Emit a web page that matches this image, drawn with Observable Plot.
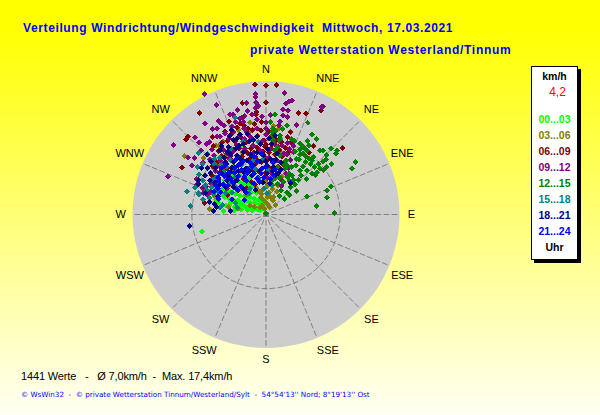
<!DOCTYPE html>
<html><head><meta charset="utf-8">
<script src="https://cdn.jsdelivr.net/npm/d3@7"></script>
<script src="https://cdn.jsdelivr.net/npm/@observablehq/plot@0.6"></script>
<style>
html,body{margin:0;padding:0;width:600px;height:415px;overflow:hidden;background:linear-gradient(#ffff00 0%,#ffff00 6%,#fffff4 100%);font-family:"Liberation Sans",Arial,sans-serif}
#chart{position:absolute;left:0;top:0}
.t{position:absolute;white-space:pre}
.title{color:#0000ff;font-weight:bold;font-size:12px;letter-spacing:.62px}
#legend{position:absolute;left:531px;top:66px;width:45px;height:192px;background:#fff;border:1px solid #000;box-shadow:3px 3px 0 #000}
#legend div{position:absolute;left:0;width:100%;text-align:center;font-weight:bold;font-size:10.5px;line-height:14px}
</style></head><body>
<div id="chart"></div>
<div class="t title" style="left:23px;top:21px">Verteilung Windrichtung/Windgeschwindigkeit  Mittwoch, 17.03.2021</div>
<div class="t title" style="left:250px;top:43px;letter-spacing:.72px">private Wetterstation Westerland/Tinnum</div>
<div id="legend"></div>
<div class="t" id="foot1" style="left:21px;top:370px;font-size:11px;letter-spacing:-.14px;color:#000"></div>
<div class="t" id="foot2" style="left:21px;top:390px;font-size:7.2px;color:#0000ff;font-family:'DejaVu Sans'"></div>
<script>
const directions = ["N","NNE","NE","ENE","E","ESE","SE","SSE","S","SSW","SW","WSW","W","WNW","NW","NNW"];
const hourLabels = ["00...03","03...06","06...09","09...12","12...15","15...18","18...21","21...24"];
const hourColors = ["#00ff00","#808000","#800000","#800080","#008000","#008080","#000080","#0000ff"];
const speedMax = 18, ringSpeed = 10;

// Wind vectors [east, north] in km/h, one list per three-hour block.
const h00 = [[-8.6,-2.3],[-5.7,0.5],[-4.9,1.3],[-2.8,1.1],[-1.7,1],[-1.2,0.8],[-0.8,0.6],[-0.5,1],[-0.3,1.4],[-0.9,1.4],[-1.5,1.5],[-2.1,1.6],[-2.6,1.8],[-3.2,1.7],[-3.8,1.9],[-4.4,2],[-5,2.2],[-5.6,2.4],[-6.1,2.7],[-1,2],[-1.6,2.2],[-2.2,2.4],[-2.9,2.5],[-3.5,2.6],[-4.1,2.8],[-4.8,3],[-5.3,3.2],[-5.9,3.4],[-1.3,2.9],[-2,3],[-2.6,3.2],[-3.3,3.4],[-3.9,3.5],[-4.5,3.8],[-5.1,4],[-1.8,3.8],[-2.4,4],[-3,4.2],[-3.6,4.4],[-4.2,4.6],[-2.2,4.9],[-2.9,5.1],[-3.5,5.3],[-3.5,9.2],[-6.5,1.6],[-5.4,1.2],[-4.3,1],[-3.4,0.7],[-3,1.2],[-2.3,0.8],[-1.9,0.5],[-6.7,2],[-4.7,1.6],[-3.6,1.3],[-7,3.6],[-6.4,4.1],[-5.6,4.6],[-4.7,5.2],[-3.2,5.9],[-1.2,3.4],[-0.7,1.8],[-4.3,0.5],[-2.5,0.6]];
const h03 = [[-11,7.9],[-8.4,7.6],[-6.9,2.4],[-7.6,0.7],[1,2.4],[0.4,3],[-0.7,2.3],[-0.3,1.9],[0.1,1.5],[-0.5,1.2],[-0.2,0.7],[-0.9,3],[-0.4,3.4],[0.2,3.8],[0.8,4],[-0.1,4.4],[-1.3,3.6],[-1,4.5],[0.6,5],[1.6,3.9],[1.5,5.2],[2.2,5.1],[-3.7,11.4],[-2.3,11],[1,11.9],[0.9,10.8],[2,8.4],[-6.8,9.3],[-6.3,9.3],[-5.5,7.8],[-4.3,6.4],[-3.2,8.4],[-7.5,3.2],[-4.5,6],[-2,6.5],[-1,7.2],[0,6.3],[1,6.9],[-3.4,7],[-4.8,4.1],[-2.6,2.6],[0.5,1],[0.9,1.9],[1.3,1.3],[0.2,2.4],[-0.6,2.8],[1.5,3.1],[0.9,3.4],[-1.6,1],[-0.8,0.9],[0.6,2.4],[-5,1],[-3.8,0.8],[-2.2,1.2],[-6.2,6.8],[-7,6.2],[-5.8,9.9],[-2.2,12.4],[1.7,11.6]];
const h06 = [[-1.5,17.5],[0,17.4],[1.4,17.5],[0,15.1],[-3.2,15],[-9,13.7],[4.4,13.7],[5.4,13.6],[7.4,14],[10.3,9],[-11.3,6.3],[-10.5,10.5],[-10.8,10.1],[-7.2,10.4],[-8.3,1.6],[-5,12.5],[-3.2,13.1],[-5.5,11.2],[0,9.5],[3.3,11.1],[3.4,9.7],[5.8,8.4],[6.4,9.2],[-1.3,13.8],[-1.3,13.5],[-4.2,9.8],[-3.4,10.4],[-2.7,9.7],[-1.9,10.1],[-1.1,10.6],[-0.3,10],[0.8,9.4],[1.6,9.2],[-5.1,8.5],[-4.4,8.7],[-3.6,8.9],[-2.8,8.6],[-2,8.9],[-1.2,9],[-0.4,8.5],[0.4,8.4],[1.2,8.1],[2.2,7.8],[-5.5,7.1],[-4.6,7.3],[-3.9,7.6],[-3,7.2],[-2.2,7.5],[-1.4,7.7],[-0.6,7.1],[0.2,7.4],[1,7.2],[-4.2,6.1],[-3.4,5.9],[-2.5,6.2],[-1.7,6],[-0.9,5.8],[-0.1,5.6],[-3,4.8],[-2,4.4],[-1.1,5],[-4.8,5],[-2.9,12],[-1.8,11.4],[-0.7,11.3],[2.9,10.4],[-7.1,9.2],[-6.4,8.6],[-5.9,9.7],[-5.2,9.9],[-4.8,10.7],[-3.9,11.7],[-3.5,12.3],[-2.4,11.6],[-1.5,12.2],[-0.6,12.5],[0.4,11.2],[0.5,10.3],[1.4,10],[2.1,9.8],[2.6,9],[3,8.4],[1.8,8.7],[-0.1,9.2],[-1.6,8.4],[-2.4,8.2],[-3.2,7.8],[-4.8,7.9],[-6,7.9],[-6.6,7],[-7.2,6.5],[-6,6],[-5.2,6.2],[-5.5,5.4],[-6.4,4.8],[-7.3,5.3],[-3.7,5.2],[-1.4,6.8],[0.5,6.3],[1.7,6.4],[2.3,6.8],[-0.5,4.4],[-1.5,4],[-2.6,3.6],[-3.8,3.2],[-5.2,2.6],[-6.6,3.4],[-8.1,3.8]];
const h09 = [[-8.3,16.2],[2.5,16.4],[-6.7,14.8],[-1.4,16.2],[-1.4,15.8],[-1.4,15.1],[-1.4,14.4],[-2.6,15],[3.5,15.4],[3.1,15.2],[2.7,15],[7.7,14.6],[7.5,14.5],[2.3,14.1],[3,14],[2.3,13.4],[2.9,13.1],[4.1,12.1],[1.9,12.5],[1.8,12],[-4.9,13.5],[-4.4,13.5],[-3.8,14.1],[-2.5,14],[-8.2,12.3],[-6.4,12.6],[-6.1,12.3],[-4.1,12.5],[-12.5,9.4],[-13.2,5.1],[-10,6.6],[-10.5,7.7],[-9.6,10.4],[-9,9.7],[-7.6,9.8],[-6.6,11.6],[-6.6,10.5],[-6.2,10.5],[-8.1,2.8],[-7.9,2.6],[0,12.4],[0,11.6],[0,10.8],[-1.2,12.8],[-1.2,11.6],[3.7,9.2],[3.7,8.4],[2.8,8.1],[2.2,4.6],[2.1,3.8],[1.5,5.5],[-3,11.6],[-2.6,11.1],[-2.1,10.5],[-3.7,10.5],[-4.4,11.1],[-5,10.2],[-6.2,7.3],[-5.3,8.2],[-4.4,8.6],[-3.5,7.7],[-2.8,8.9],[-1.7,9.3],[-0.8,8.6],[0.4,7.7],[1.5,7.3],[2.4,8.2],[3.3,7.3],[0.8,5.5],[-2.6,5.9],[-4.8,5],[-6.8,5.9],[-7.5,3],[-5.2,3.5],[-7.2,11.5],[-5.6,12],[-4.6,11.9],[-3.5,13],[-2.9,13.3],[-1.9,13.5],[-0.5,13.2],[0.6,13.4],[-1,14.6],[-3,12.5],[-5.5,10.9],[-7.3,8.8],[-8,9.5],[-8.8,8.6],[-8.5,7],[-7.6,7.4],[-7,8],[-9.6,7.6],[-9.4,4.8],[-9.4,4],[-8.6,3.6],[-8.4,2.9],[-7.4,4.2],[-6.6,6.5],[-5.7,8.7],[-5,7.6],[-4,9.4],[-2.9,10.2],[-0.5,9.9],[1.3,9.4],[2.2,9.3],[2.9,9.6],[3.2,8.8],[3,6.3],[2.7,5.5],[1.8,4.9],[0.2,4.9],[-1.8,8.2],[-0.2,7.8],[0.7,8.9],[1.8,6.2]];
const h12 = [[1.2,13.5],[5.6,12.4],[6.2,10.8],[6.8,10.2],[5.6,9.9],[4.9,9.3],[5.2,9],[5.5,8.6],[4.6,8.1],[5,8.2],[4.1,7.5],[5.8,7.5],[6.2,7.3],[5.3,7.1],[6,6.8],[6.4,7.7],[7.3,8.6],[7.7,8.6],[8.8,8.9],[9.6,8.6],[9.4,8.2],[8.2,8],[7.7,7.1],[8.1,7.4],[8.8,6.8],[7.1,6.8],[7.3,6.2],[7.8,6],[6.9,5.7],[8.1,6.4],[12.1,7.1],[11.6,6.2],[4.6,5.9],[5.5,5.9],[6.7,5.3],[6.2,5.5],[8.8,3.8],[8.2,3.2],[8.2,2.3],[5.5,2.4],[6.8,1.1],[9.3,0.2],[2.5,2.1],[4.1,3.2],[2.9,5],[3.5,5.3],[3.7,4.6],[4.4,4.7],[5.5,4.8],[2.8,3],[3.3,3.7],[0.9,11.6],[0.9,11.1],[0.9,10.7],[0.9,10],[1.9,10.7],[2.8,12],[1.8,10],[2.4,6.8],[2.8,6.6],[2.6,6.2],[1.5,4.1],[2.4,4.4],[3.1,5.5],[3.5,6.4],[2.7,7.3],[0,0.1],[1.5,6.4],[1.9,5],[3.4,10.2],[3.9,9.9],[4.6,9.6],[5.8,9.3],[4.6,8.8],[3.9,8.5],[4.5,7.4],[5.4,7.8],[6.6,6.4],[5,6.5],[4,6.6],[3.2,4.5],[3.9,4],[4.7,5.3],[2,3.2],[1.8,2.5],[3.2,2.6],[1.2,8.6],[1.6,9.1],[0.6,12.5],[1.3,11.3],[2.2,11.5],[1.9,7.9],[1.2,4.9],[0.7,4.5]];
const h15 = [[-4.2,13.1],[-9.1,8.3],[-10.6,3.1],[-10.2,1.1],[-9.6,3.6],[-9.1,2.9],[-9,2.7],[-9.2,6.4],[-9,5.4],[-7.9,8.2],[-7.4,3.7],[-7.2,4.6],[-6.2,7.7],[-5.9,6.8],[-3.9,1],[-7.1,2.8],[-6.6,3.9],[-6.2,5.5],[-5.3,6.4],[-4.8,7.3],[-4.1,5.9],[-6.4,3],[-5.7,4.1],[-4.6,3],[-2.3,2.8],[-1,4.8],[0.4,5.9],[0.8,3.9],[-0.3,3.5],[-1.7,7.3],[-2.8,5.3],[-4.1,3.7],[0.1,2.8],[-8.5,4.6],[-8,3.3],[-8.6,6.8],[-7,6.8],[-6.9,7.5],[-6.7,5],[-8.2,4],[-7.6,2.2],[-6.9,3.2],[-5.5,2.9],[-5,4.3],[-4.2,5],[-3.3,6.7],[-2.2,6.3],[-4.7,8.9],[-5.7,5.9],[-3.2,3.6],[-2.1,3.5],[-1.4,6.1],[-0.4,7.4],[-4.1,1.6],[-5.9,1.3],[-6.2,0.9],[-8.5,2],[-3.1,9.9],[-1,9.8]];
const h18 = [[-10.3,-1.6],[-4.8,0.5],[-4.6,11.4],[-7.9,8.1],[-8.7,6.3],[-7.9,6.3],[-9.1,4.6],[-9.1,4.1],[-8.2,5.3],[-6.7,1],[-7.1,0.5],[-6.2,8.6],[-4.4,10],[-3.9,10.2],[-4.1,8.9],[-5,9.1],[-3.7,9.3],[-3,9.5],[-2.3,9.8],[-1.7,10],[-0.8,9.5],[0.8,9.5],[1.5,8.2],[3.3,4.2],[-5.7,7.7],[-4.8,8.2],[-3.9,8],[-3,8.4],[-2.1,8.2],[-1.2,8.4],[-0.3,8],[0.6,7.5],[-5.3,6.8],[-4.4,7.1],[-3.5,6.8],[-2.6,7.3],[-1.7,6.6],[-0.8,7.1],[0.1,6.6],[1,6.4],[-5.9,5.5],[-4.8,5.7],[-3.7,5.9],[-2.7,6.2],[-0.8,5.9],[0.1,5.5],[1.3,5.3],[-6.2,4.1],[-5.3,4.6],[-3.9,4.6],[-1.9,5.3],[-7.4,7.1],[-6.8,6.3],[-7.5,5.6],[-6.9,4.3],[-7.6,4.6],[-8.2,2.9],[-7.6,1.7],[-6.9,1.4],[-5.5,7],[-5.2,8.4],[-6,9.2],[-4.9,10.6],[-3.5,10.8],[-2.5,10.9],[-1.2,10.5],[0.4,10.3],[1.2,10.6],[0.2,8.8],[1.3,7.4],[2,6.1],[2,7],[1.7,5.6],[-2,7.9],[-3.4,7.5],[-4.6,6.3],[-5.2,5.2],[-6.5,2.4],[-5.5,3.7],[-4.4,3.7],[-3,3.4],[-1.4,3.3],[-0.4,4.3],[0.5,4.2],[-3,5.7],[-2.2,5.9],[-0.1,7.2],[0.9,5.9],[-4.2,4.4]];
const h21 = [[-1.6,7.8],[-0.6,8.1],[-3.1,7.1],[-1.2,7.2],[0.9,7],[-6,6.3],[-4.2,6.3],[-2.4,6.1],[-0.6,6.2],[1.2,6.1],[-6.5,5],[-5.6,5.2],[-4.7,4.9],[-3.8,5.1],[-2.9,5],[-1.2,4.8],[-0.3,5],[0.6,4.8],[-6.8,4],[-5.1,3.9],[-3.4,3.8],[-1.6,4.2],[-7,3.1],[-6.1,3],[-2.7,3],[-6.4,2.1],[-4.6,2],[-2.9,2],[-5.5,6.6],[-3.7,6.7],[-1.9,6.5],[-0.1,6.4],[-6.3,5.6],[-4.3,5.6],[-2.5,5.6],[-0.7,5.5],[1,5.3],[-6.4,4.5],[-4.5,4.4],[-2.6,4.5],[-0.9,4.4],[-6.5,3.5],[-3.9,3.4],[-5.8,4],[-5,5.6],[-3.3,6],[-1.6,5.5],[-4.1,7.4],[-2.1,7]];
const hourSeries = [h00,h03,h06,h09,h12,h15,h18,h21];

const points = hourSeries.flatMap((s,i)=>s.map(([east,north])=>({east,north,hour:hourLabels[i]})));
const polar = (deg,speed)=>({x:speed*Math.sin(deg*Math.PI/180),y:speed*Math.cos(deg*Math.PI/180)});
const circle = speed=>d3.range(0,361,3).map(a=>polar(a,speed));
const spokes = directions.flatMap((name,i)=>[{...polar(i*22.5,0.8),name},{...polar(i*22.5,speedMax),name}]);
const labelShift = [0,2,0,-1.5,0,1.5,0,-2];
const labels = directions.map((name,i)=>({...polar(i*22.5+labelShift[i%8],i%4?20.1:19.6),name}));

const plot = Plot.plot({
  width:600,height:415,
  marginLeft:132,marginRight:201,marginTop:80.5,marginBottom:67.5,
  style:{background:"transparent",overflow:"visible"},
  x:{domain:[-speedMax,speedMax],axis:null},
  y:{domain:[-speedMax,speedMax],axis:null},
  color:{domain:hourLabels,range:hourColors},
  marks:[
    Plot.line(circle(speedMax),{x:"x",y:"y",fill:"#cdcdcd",stroke:"none"}),
    Plot.line(spokes,{x:"x",y:"y",z:"name",stroke:"#808080",strokeWidth:1,strokeDasharray:"5,3"}),
    Plot.line(circle(ringSpeed),{x:"x",y:"y",stroke:"#808080",strokeWidth:1,strokeDasharray:"5,3"}),
    Plot.text([{x:1.5,y:ringSpeed,t:String(ringSpeed)}],{x:"x",y:"y",text:"t",fontSize:10,fill:"#000"}),
    Plot.dot([{x:0,y:0}],{x:"x",y:"y",symbol:"square",r:3,fill:"#808080",shapeRendering:"crispEdges"}),
    Plot.dot(points,{x:"east",y:"north",fill:"hour",symbol:"diamond2",r:2.7,shapeRendering:"crispEdges"}),
    Plot.text(labels,{x:"x",y:"y",text:"name",fontSize:11,fill:"#000",fontFamily:"Liberation Sans"})
  ]
});
document.getElementById("chart").append(plot);

const legend = document.getElementById("legend");
const entry=(txt,top,col,extra="")=>{const d=document.createElement("div");d.textContent=txt;d.style.cssText=`top:${top}px;color:${col};${extra}`;legend.append(d)};
entry("km/h",2,"#000");
entry("4,2",18,"#ff0000","font-weight:normal;font-size:12px;left:3px");
hourLabels.forEach((h,i)=>entry(h,45+i*16,hourColors[i]));
entry("Uhr",173,"#000");
document.getElementById("foot1").textContent="1441 Werte   -   Ø 7,0km/h  -  Max. 17,4km/h";
document.getElementById("foot2").textContent="© WsWin32  -  © private Wetterstation Tinnum/Westerland/Sylt  -  54°54'13'' Nord; 8°19'13'' Ost";
</script>
</body></html>
